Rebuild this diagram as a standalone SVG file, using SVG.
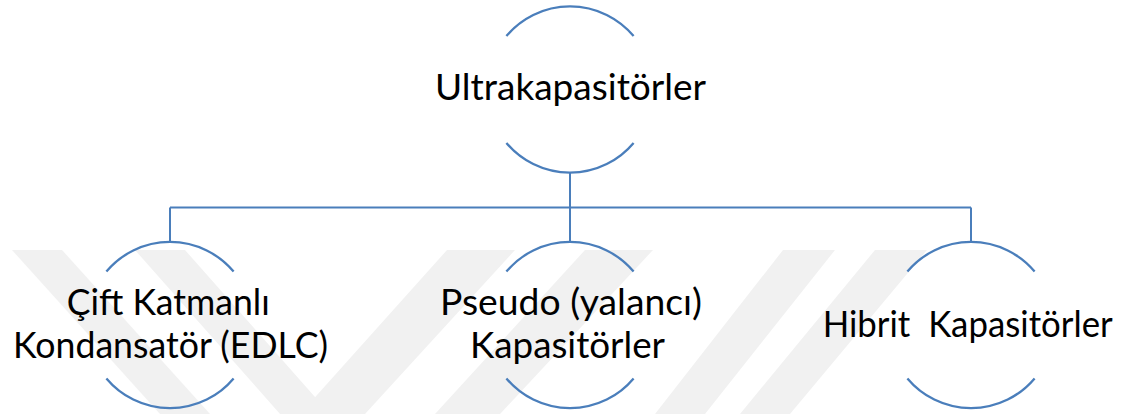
<svg xmlns="http://www.w3.org/2000/svg" width="1136" height="414" viewBox="0 0 1136 414">
  <style>
    .arc { fill: none; stroke: #4a7ebb; stroke-width: 2.3; }
    .link { fill: none; stroke: #4a7ebb; stroke-width: 2; }
    .label { font-family: "Lato", "Open Sans", sans-serif; font-size: 37px; fill: #000; white-space: pre; }
    .wm { fill: #f1f1f1; }
  </style>

  <rect width="1136" height="414" fill="#ffffff"/>

  <!-- faint background emblem -->
  <g id="watermark">
    <polygon class="wm" points="12,250 62,250 210,414 160,414"/>
    <polygon class="wm" points="135,250 185,250 330,414 280,414"/>
    <polygon class="wm" points="447,250 515,250 365,414 300,414"/>
    <polygon class="wm" points="585,250 653,250 500,414 435,414"/>
    <polygon class="wm" points="783,250 835,250 705,414 655,414"/>
    <polygon class="wm" points="875,250 927,250 790,414 740,414"/>
  </g>

  <!-- connectors -->
  <g id="connectors">
    <path class="link" d="M570 172.5 V207.5 M170 207.5 H971 M170 207.5 V242 M570 207.5 V242 M971 207.5 V242"/>
  </g>

  <!-- root node -->
  <g id="node-root">
    <path class="arc" d="M506.4 36.1 A83 83 0 0 1 633.6 36.1"/>
    <path class="arc" d="M506.4 142.9 A83 83 0 0 0 633.6 142.9"/>
    <text class="label" x="435" y="99.5" textLength="271" lengthAdjust="spacingAndGlyphs">Ultrakapasitörler</text>
  </g>

  <!-- EDLC node -->
  <g id="node-edlc">
    <path class="arc" d="M106.4 271.6 A83 83 0 0 1 233.6 271.6"/>
    <path class="arc" d="M106.4 378.4 A83 83 0 0 0 233.6 378.4"/>
    <text class="label" x="66.7" y="315" textLength="203" lengthAdjust="spacingAndGlyphs">Çift Katmanlı</text>
    <text class="label" x="13" y="358" textLength="315" lengthAdjust="spacingAndGlyphs">Kondansatör (EDLC)</text>
  </g>

  <!-- pseudo capacitor node -->
  <g id="node-pseudo">
    <path class="arc" d="M506.4 271.6 A83 83 0 0 1 633.6 271.6"/>
    <path class="arc" d="M506.4 378.4 A83 83 0 0 0 633.6 378.4"/>
    <text class="label" x="440" y="315" textLength="262" lengthAdjust="spacingAndGlyphs">Pseudo (yalancı)</text>
    <text class="label" x="470" y="358" textLength="195" lengthAdjust="spacingAndGlyphs">Kapasitörler</text>
  </g>

  <!-- hybrid capacitor node -->
  <g id="node-hybrid">
    <path class="arc" d="M907.4 271.6 A83 83 0 0 1 1034.6 271.6"/>
    <path class="arc" d="M907.4 378.4 A83 83 0 0 0 1034.6 378.4"/>
    <text class="label" x="822.7" y="336.5" textLength="290" lengthAdjust="spacingAndGlyphs">Hibrit  Kapasitörler</text>
  </g>
</svg>
